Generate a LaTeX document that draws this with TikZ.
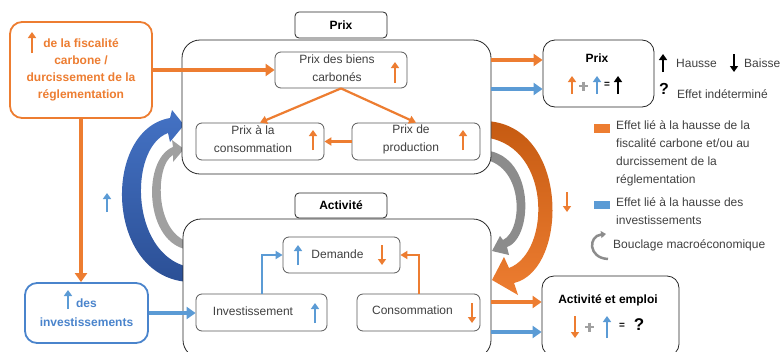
\documentclass[tikz,border=0pt]{standalone}
\usepackage{fontspec}
\setmainfont{Liberation Sans}
\usepackage{tikz}
\usetikzlibrary{arrows.meta}
\definecolor{orng}{HTML}{ED7D31}
\definecolor{brwn}{HTML}{C55A11}
\definecolor{lblue}{HTML}{5B9BD5}
\definecolor{tblue}{HTML}{4A84CC}
\definecolor{dblue}{HTML}{2B4F95}
\definecolor{mblue}{HTML}{4472C4}
\definecolor{gry}{HTML}{A0A0A0}
\definecolor{dgry}{HTML}{8C8C8C}
\definecolor{txt}{HTML}{404040}

\begin{document}
\begin{tikzpicture}[x=1pt, y=-1pt,
  every node/.style={font=\fontsize{12}{18}\selectfont, text=txt, inner sep=0pt},
  cont/.style={draw=black!85, line width=0.8pt, rounded corners=18pt, fill=white},
  titlebox/.style={draw=black!85, line width=0.8pt, rounded corners=4pt, fill=white,
    font=\fontsize{12}{18}\selectfont\bfseries, text=black},
  inbox/.style={draw=black!65, line width=0.8pt, rounded corners=6pt, fill=white},
  resbox/.style={draw=black!85, line width=0.8pt, rounded corners=12pt, fill=white},
  big/.style={line width=3.5pt, -{Triangle[length=9pt,width=12pt]}},
  thin/.style={line width=2.2pt, -{Triangle[length=7pt,width=8pt]}},
  mini/.style={line width=2.6pt, -{Triangle[length=6pt,width=8pt]}},
  plus/.style={line width=2.6pt, gry},
]
\useasboundingbox (0,0) rectangle (781,351);

% loops behind the blocks
\shade[top color=mblue, bottom color=dblue]
  (195,282) .. controls (105,285) and (100,130) .. (170,118)
  -- (172,110) -- (184,125) -- (170,142) -- (168,133)
  .. controls (127,148) and (130,262) .. (195,268) -- cycle;
\fill[gry] (195,250) .. controls (145,252) and (140,160) .. (173,147)
  -- (172,140) -- (184,149) -- (173,162) -- (173,155)
  .. controls (154,165) and (154,240) .. (195,243) -- cycle;
\shade[top color=brwn, bottom color=orng]
  (480,121) .. controls (570,118) and (570,270) .. (514,283)
  -- (518,295) -- (492,280) -- (504,257) -- (509,268)
  .. controls (552,252) and (552,140) .. (480,137) -- cycle;
\fill[dgry] (480,150) .. controls (536,150) and (534,238) .. (507,247)
  -- (509,255) -- (492,251) -- (500,236) -- (503,240)
  .. controls (524,230) and (524,162) .. (480,159) -- cycle;

% left column
\node[draw=orng, line width=1.8pt, rounded corners=12pt, fill=white,
  minimum width=142pt, minimum height=96pt, align=center,
  font=\fontsize{12}{17}\selectfont\bfseries, text=orng] (fisc) at (81,70)
  {de la fiscalité\\carbone /\\durcissement de la\\réglementation};
\node[draw=tblue, line width=1.8pt, rounded corners=12pt, fill=white,
  minimum width=123pt, minimum height=60pt, align=center,
  font=\fontsize{12}{19}\selectfont\bfseries, text=tblue] (invB) at (86.5,313)
  {des\\investissements};
\draw[mini, orng] (32,53) -- (32,32);
\draw[mini, lblue] (68,309) -- (68,290);
\draw[mini, lblue] (107,212) -- (107,193);

% Prix block
\node[cont, minimum width=309pt, minimum height=134pt] (prixC) at (336.5,107) {};
\node[titlebox, minimum width=92pt, minimum height=26pt] (prixT) at (341,25) {Prix};
\node[inbox, minimum width=132pt, minimum height=36pt] (biens) at (341,70) {};
\node[inbox, minimum width=128pt, minimum height=37pt] (pconso) at (260,141.5) {};
\node[inbox, minimum width=128pt, minimum height=37pt] (pprod) at (416,141.5) {};
\node[align=center] (biensT) at (337,68) {Prix des biens\\carbonés};
\node[align=center] (pconsoT) at (253,139.5) {Prix à la\\consommation};
\node[align=center] (pprodT) at (411,139.5) {Prix de\\production};
\draw[mini, orng] (395,83) -- (395,62);
\draw[mini, orng] (313,150) -- (313,130);
\draw[mini, orng] (463,150) -- (463,130);
\draw[thin, orng] (biens.south) -- (pconso.north);
\draw[thin, orng] (biens.south) -- (pprod.north);
\draw[thin, orng] (pprod.west) -- (pconso.east);

% Activite block
\node[cont, minimum width=308pt, minimum height=139pt] (actC) at (337,288.5) {};
\node[titlebox, minimum width=92pt, minimum height=25pt] (actT) at (341,205.5) {Activité};
\node[inbox, minimum width=117pt, minimum height=36pt] (demande) at (341.5,255) {};
\node[inbox, minimum width=131pt, minimum height=37pt] (invest) at (261.5,312.5) {};
\node[inbox, minimum width=123pt, minimum height=37pt] (conso) at (418.5,312.5) {};
\node (demandeT) at (337.5,254) {Demande};
\node (investT) at (253,311) {Investissement};
\node (consoT) at (412.5,310) {Consommation};
\draw[mini, lblue] (298,265) -- (298,245);
\draw[mini, orng] (382,245) -- (382,265);
\draw[mini, lblue] (315,323) -- (315,303);
\draw[mini, orng] (472,303) -- (472,323);
\draw[thin, lblue, line width=2pt] (invest.north) |- (demande.west);
\draw[thin, orng, line width=2pt] (conso.north) |- (demande.east);

% links from the left
\draw[big, orng] (fisc.east) -- (biens.west);
\draw[big, orng] (fisc.south) -- (fisc.south |- invB.north);
\draw[big, lblue] (invB.east) -- (invB.east -| invest.west);

% results
\node[resbox, minimum width=111pt, minimum height=67pt] (prixR) at (598.5,73.5) {};
\node[resbox, minimum width=137pt, minimum height=80pt] (actR) at (610.5,316) {};
\node[font=\fontsize{12}{18}\selectfont\bfseries, text=black] (prixRT) at (597,58) {Prix};
\node[font=\fontsize{12}{18}\selectfont\bfseries, text=black] (actRT) at (608,300) {Activité et emploi};
\draw[big, orng] (prixC.east |- 0,60) -- (prixR.west |- 0,60);
\draw[big, lblue] (prixC.east |- 0,89) -- (prixR.west |- 0,89);
\draw[big, orng] (actC.east |- 0,302) -- (actR.west |- 0,302);
\draw[big, lblue] (actC.east |- 0,332) -- (actR.west |- 0,332);

% Prix formula
\draw[mini, orng] (572,94) -- (572,76);
\draw[plus] (579,86) -- (588,86) (583.5,81.5) -- (583.5,90.5);
\draw[mini, lblue] (597,94) -- (597,76);
\node[font=\fontsize{10}{10}\selectfont\bfseries, text=black] (eqA) at (607,85) {=};
\draw[mini, black] (618,94) -- (618,76);

% Activite formula
\draw[mini, orng] (575,316) -- (575,338);
\draw[plus] (585,327) -- (594,327) (589.5,322.5) -- (589.5,331.5);
\draw[mini, lblue] (607,338) -- (607,316);
\node[font=\fontsize{10}{10}\selectfont\bfseries, text=black] (eqB) at (622,326) {=};
\node[font=\fontsize{17}{17}\selectfont\bfseries, text=black] (qmB) at (639,325) {?};
\draw[mini, orng] (567,192) -- (567,212);

% legend
\draw[mini, black, line width=2.8pt] (663,72) -- (663,54);
\node[anchor=west] (hausse) at (676,63.5) {Hausse};
\draw[mini, black, line width=2.8pt] (734,54) -- (734,72);
\node[anchor=west] (baisse) at (744,63.5) {Baisse};
\node[font=\fontsize{16}{16}\selectfont\bfseries, text=black] (qmL) at (664,89) {?};
\node[anchor=west] (indet) at (677,94) {Effet indéterminé};
\fill[orng] (594,124) rectangle (610,133);
\node[anchor=west, align=left] (legO) at (616,153)
  {Effet lié à la hausse de la\\fiscalité carbone et/ou au\\durcissement de la\\réglementation};
\fill[lblue] (594,201) rectangle (610,209);
\node[anchor=west, align=left] (legB) at (616,211.5)
  {Effet lié à la hausse des\\investissements};
\draw[dgry, line width=2.5pt, -{Triangle[length=5pt,width=7pt]}]
  (608,259) .. controls (588,258) and (588,236) .. (606,234);
\node[anchor=west] (boucl) at (613,245) {Bouclage macroéconomique};
\end{tikzpicture}
\end{document}
